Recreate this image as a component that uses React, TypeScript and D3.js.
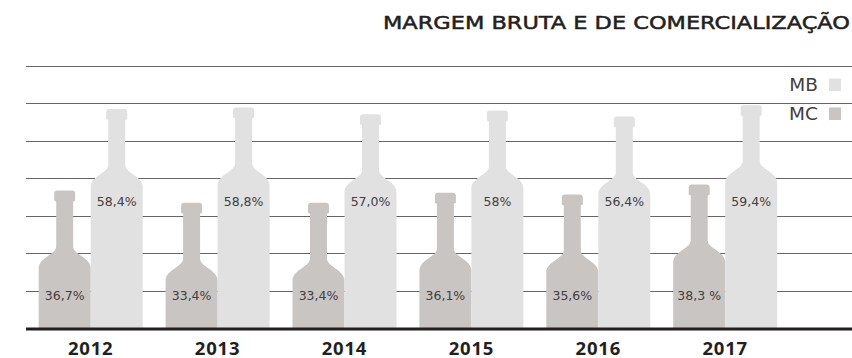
import React from "react";
import * as d3 from "d3";

const years = ["2012", "2013", "2014", "2015", "2016", "2017"];
const mcValues = [36.7, 33.4, 33.4, 36.1, 35.6, 38.3];
const mbValues = [58.4, 58.8, 57.0, 58, 56.4, 59.4];
const mcLabels = ["36,7%", "33,4%", "33,4%", "36,1%", "35,6%", "38,3 %"];
const mbLabels = ["58,4%", "58,8%", "57,0%", "58%", "56,4%", "59,4%"];
const gridTicks = [10, 20, 30, 40, 50, 60, 70];

const W = 852;
const H = 358;
const MC_COLOR = "#c9c5c2";
const MB_COLOR = "#e1e1e1";
const FONT = "'DejaVu Sans', sans-serif";
const BOLD_FONT = "'Open Sans', sans-serif";

const x = d3.scalePoint<string>().domain(years).range([90.7, 725.2]);
const y = d3.scaleLinear().domain([0, 70]).range([328, 65.5]);
const BOTTLE_W = 52;

// Wine bottle silhouette: square base, rounded shoulder, long neck, lip
function bottlePath(x0: number, top: number, bottom: number): string {
  const w = BOTTLE_W;
  const cx = x0 + w / 2;
  const neck = 8.5;
  const lip = 10.5;
  const lipH = 10;
  const ys = top + 56; // where the neck meets the shoulder
  const ye = ys + 22; // where the shoulder meets the body
  const p = d3.path();
  p.moveTo(x0, bottom);
  p.lineTo(x0, ye);
  p.bezierCurveTo(x0, ys + 11, cx - neck, ys + 8, cx - neck, ys);
  p.lineTo(cx - neck, top + lipH + 1);
  p.lineTo(cx - lip, top + lipH);
  p.lineTo(cx - lip, top + 3);
  p.quadraticCurveTo(cx - lip, top, cx - lip + 3, top);
  p.lineTo(cx + lip - 3, top);
  p.quadraticCurveTo(cx + lip, top, cx + lip, top + 3);
  p.lineTo(cx + lip, top + lipH);
  p.lineTo(cx + neck, top + lipH + 1);
  p.lineTo(cx + neck, ys);
  p.bezierCurveTo(cx + neck, ys + 8, x0 + w, ys + 11, x0 + w, ye);
  p.lineTo(x0 + w, bottom);
  p.closePath();
  return p.toString();
}

export default function App() {
  return (
    <svg
      width={W}
      height={H}
      style={{ position: "absolute", left: 0, top: 0, background: "#fff" }}
    >
      <text
        x={850}
        y={29}
        textAnchor="end"
        fontFamily={FONT}
        fontSize={18.3}
        textLength={467}
        lengthAdjust="spacingAndGlyphs"
        fill="#231f20"
        stroke="#231f20"
        strokeWidth={0.5}
      >
        MARGEM BRUTA E DE COMERCIALIZAÇÃO
      </text>

      {gridTicks.map((t) => (
        <line
          key={t}
          x1={26}
          x2={W}
          y1={Math.round(y(t)) + 0.5}
          y2={Math.round(y(t)) + 0.5}
          stroke="#676565"
          strokeWidth={1.2}
        />
      ))}

      {years.map((yr, i) => {
        const c = x(yr)!;
        return (
          <g key={yr}>
            <path d={bottlePath(c - BOTTLE_W, y(mcValues[i]), y(0))} fill={MC_COLOR} />
            <path d={bottlePath(c, y(mbValues[i]), y(0))} fill={MB_COLOR} />
            <text
              x={c - BOTTLE_W / 2}
              y={300}
              textAnchor="middle"
              fontFamily={FONT}
              fontSize={12.5}
              fill="#414042"
            >
              {mcLabels[i]}
            </text>
            <text
              x={c + BOTTLE_W / 2}
              y={205.5}
              textAnchor="middle"
              fontFamily={FONT}
              fontSize={12.5}
              fill="#414042"
            >
              {mbLabels[i]}
            </text>
            <text
              x={c}
              y={354.5}
              textAnchor="middle"
              fontFamily={BOLD_FONT}
              fontSize={18.5}
              fontWeight={700}
              letterSpacing={0.8}
              fill="#231f20"
            >
              {yr}
            </text>
          </g>
        );
      })}

      <line x1={26} x2={W} y1={329} y2={329} stroke="#231f20" strokeWidth={3} />

      <text x={818} y={91} textAnchor="end" fontFamily={FONT} fontSize={18.5} fill="#414042">
        MB
      </text>
      <rect x={829} y={78.5} width={12} height={12.5} fill={MB_COLOR} />
      <text x={818} y={120} textAnchor="end" fontFamily={FONT} fontSize={18.5} fill="#414042">
        MC
      </text>
      <rect x={829} y={107.5} width={12} height={12.5} fill={MC_COLOR} />
    </svg>
  );
}
